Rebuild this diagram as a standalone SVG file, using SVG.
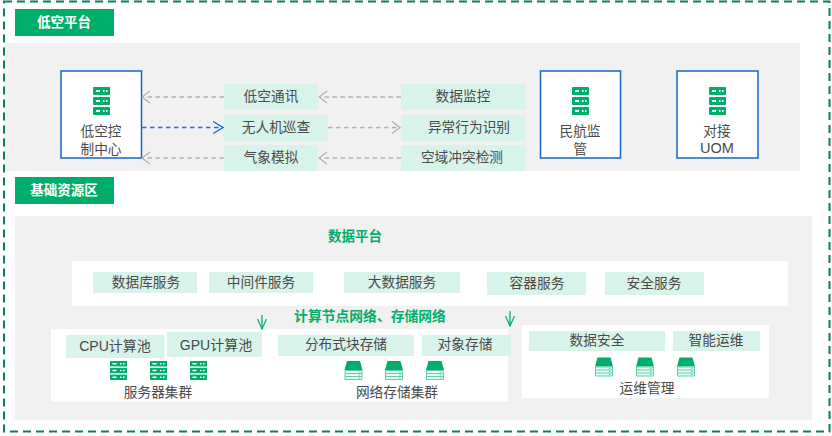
<svg xmlns="http://www.w3.org/2000/svg" width="832" height="436" viewBox="0 0 832 436">
<style>
text{font-family:"Liberation Sans","Noto Sans CJK SC",sans-serif;font-size:13.700px;fill:#4a4a4a;text-anchor:middle;dominant-baseline:central}
.t{fill:#fff;font-weight:700;font-size:13.500px}
.g{fill:#00ae6b;font-weight:700;font-size:13.500px}
.gray{fill:#f1f1f1}
.w{fill:#fff}
.b{fill:#d8f3ea}
.n{fill:#fff;stroke:#1565c8;stroke-width:1.500}
.c{fill:none;stroke-width:1.300}
.cg{stroke:#b0b0b0;stroke-dasharray:4.500 3.500}
.cb{stroke:#1a6fd0;stroke-dasharray:4.500 3.500}
</style>
<defs>
<symbol id="srv" viewBox="0 0 17 28" overflow="visible">
<rect width="17" height="8" rx="1" fill="#00ae6b"/><rect y="10" width="17" height="8" rx="1" fill="#00ae6b"/><rect y="20" width="17" height="8" rx="1" fill="#00ae6b"/>
<path d="M3 3h4v2h-4zM10 3h1.500v2h-1.500zM13 3h1.500v2h-1.500zM3 13h4v2h-4zM10 13h1.500v2h-1.500zM13 13h1.500v2h-1.500zM3 23h4v2h-4zM10 23h1.500v2h-1.500zM13 23h1.500v2h-1.500z" fill="#fff"/>
</symbol>
<symbol id="srvs" viewBox="0 0 17 19" overflow="visible">
<rect width="17" height="5.400" fill="#00ae6b"/><rect y="6.800" width="17" height="5.400" fill="#00ae6b"/><rect y="13.600" width="17" height="5.400" fill="#00ae6b"/>
<path d="M2.500 2h4v1.400h-4zM10 2h1.500v1.400h-1.500zM13 2h1.500v1.400h-1.500zM2.500 8.800h4v1.400h-4zM10 8.800h1.500v1.400h-1.500zM13 8.800h1.500v1.400h-1.500zM2.500 15.600h4v1.400h-4zM10 15.600h1.500v1.400h-1.500zM13 15.600h1.500v1.400h-1.500z" fill="#fff"/>
</symbol>
<symbol id="sto" viewBox="0 0 18 19" overflow="visible">
<path d="M2.500 0h13l2.500 9h-18z" fill="#00ae6b"/>
<path d="M.5 9.500h17v9h-17zM.5 12.500h17M.5 15.500h17M14 11h1.500M14 14h1.500M14 17h1.500" fill="#eafaf4" stroke="#5fd0a8" stroke-width="1"/>
</symbol>
<marker id="mg" viewBox="0 0 10 14" refX="9" refY="7" markerWidth="10" markerHeight="14" markerUnits="userSpaceOnUse" orient="auto-start-reverse"><path d="M1 1l8 6-8 6" fill="none" stroke="#b0b0b0" stroke-width="1.300"/></marker>
<marker id="mb" viewBox="0 0 12 14" refX="11" refY="7" markerWidth="12" markerHeight="14" markerUnits="userSpaceOnUse" orient="auto"><path d="M1 1l10 6-10 6" fill="none" stroke="#1a6fd0" stroke-width="1.300"/></marker>
<marker id="mn" viewBox="0 0 12 10" refX="11" refY="5" markerWidth="12" markerHeight="10" markerUnits="userSpaceOnUse" orient="auto"><path d="M1 .5l10 4.500-10 4.500" fill="none" stroke="#00ae6b" stroke-width="1.200"/></marker>
</defs>

<rect class="gray" x="4" y="43" width="796" height="128"/>
<rect class="gray" x="15" y="216" width="797" height="204"/>
<rect x="4" y="1.500" width="825.500" height="430" fill="none" stroke="#0a7f5a" stroke-width="2" stroke-dasharray="8 5"/>

<g id="title-low"><rect x="15" y="9" width="99" height="27" fill="#00ae6b"/><text class="t" x="64" y="22">低空平台</text></g>
<g id="title-base"><rect x="15" y="177" width="99" height="27" fill="#00ae6b"/><text class="t" x="64" y="190">基础资源区</text></g>

<g id="node-control"><rect class="n" x="61" y="71" width="80.500" height="87"/><use href="#srv" x="93" y="87" width="17" height="28"/><text x="101" y="131.300">低空控<tspan x="101" dy="17.500">制中心</tspan></text></g>
<g id="node-caac"><rect class="n" x="540.500" y="71" width="80" height="87"/><use href="#srv" x="572" y="87" width="17" height="28"/><text x="580" y="131.300">民航监<tspan x="580" dy="17.500">管</tspan></text></g>
<g id="node-uom"><rect class="n" x="677" y="71" width="81" height="87"/><use href="#srv" x="709" y="87" width="17" height="28"/><text x="717" y="131.300">对接<tspan x="717" dy="17" style="font-size:14.500px">UOM</tspan></text></g>

<g id="svc-comm"><rect class="b" x="224" y="84" width="94" height="26"/><text x="271" y="96.800">低空通讯</text></g>
<g id="svc-patrol"><rect class="b" x="224" y="115" width="104" height="26"/><text x="276" y="127.300">无人机巡查</text></g>
<g id="svc-weather"><rect class="b" x="224" y="145" width="94" height="26"/><text x="271" y="157.300">气象模拟</text></g>
<g id="svc-monitor"><rect class="b" x="401" y="84" width="125" height="26"/><text x="463" y="96.800">数据监控</text></g>
<g id="svc-abnormal"><rect class="b" x="401" y="115" width="125" height="26"/><text x="469" y="127.300">异常行为识别</text></g>
<g id="svc-conflict"><rect class="b" x="401" y="145" width="125" height="26"/><text x="462" y="157.300">空域冲突检测</text></g>

<text class="g" x="355" y="236.300">数据平台</text>
<rect class="w" x="72" y="261" width="716" height="45"/>
<g id="svc-db"><rect class="b" x="93" y="272" width="104" height="21"/><text x="146" y="282.300">数据库服务</text></g>
<g id="svc-mw"><rect class="b" x="209" y="272" width="104" height="21"/><text x="261" y="282.300">中间件服务</text></g>
<g id="svc-bd"><rect class="b" x="344" y="272" width="116" height="21"/><text x="402" y="282.300">大数据服务</text></g>
<g id="svc-ctr"><rect class="b" x="487" y="272" width="99" height="23"/><text x="537" y="283.300">容器服务</text></g>
<g id="svc-sec"><rect class="b" x="605" y="272" width="99" height="23"/><text x="654" y="283.300">安全服务</text></g>

<text class="g" x="370" y="316.300" style="font-size:13.800px">计算节点网络、存储网络</text>

<rect class="w" x="51" y="329" width="457" height="72.500"/>
<rect class="w" x="522" y="325" width="247" height="73"/>

<g id="svc-cpu"><rect class="b" x="66" y="335" width="98.500" height="23"/><text x="115" y="346.300" style="font-size:14px">CPU计算池</text></g>
<g id="svc-gpu"><rect class="b" x="167" y="332" width="95" height="25"/><text x="216" y="345.300" style="font-size:14px">GPU计算池</text></g>
<g id="svc-block"><rect class="b" x="278" y="335" width="136" height="21"/><text x="346" y="344.800">分布式块存储</text></g>
<g id="svc-obj"><rect class="b" x="422" y="335" width="89" height="21"/><text x="465" y="344.800">对象存储</text></g>
<g id="svc-ds"><rect class="b" x="529" y="331" width="136" height="20"/><text x="597" y="340.800">数据安全</text></g>
<g id="svc-ai"><rect class="b" x="673" y="331" width="87" height="20"/><text x="716" y="340.800">智能运维</text></g>

<g id="cluster-server"><use href="#srvs" x="110" y="361" width="17" height="19"/><use href="#srvs" x="150" y="361" width="17" height="19"/><use href="#srvs" x="190" y="361" width="17" height="19"/><text x="158" y="392.300">服务器集群</text></g>
<g id="cluster-storage"><use href="#sto" x="344.500" y="361" width="18" height="19"/><use href="#sto" x="385" y="361" width="18" height="19"/><use href="#sto" x="426" y="361" width="18" height="19"/><text x="397" y="392.300">网络存储集群</text></g>
<g id="cluster-ops"><use href="#sto" x="595" y="357.500" width="18" height="19"/><use href="#sto" x="636" y="357.500" width="18" height="19"/><use href="#sto" x="677" y="357.500" width="18" height="19"/><text x="647" y="388.800">运维管理</text></g>

<g id="connectors">
<path class="c cg" d="M224 97H142" marker-end="url(#mg)"/>
<path class="c cg" d="M401 97H319" marker-end="url(#mg)"/>
<path class="c cb" d="M142 127.500H223" marker-end="url(#mb)"/>
<path class="c cg" d="M328 127.500H400" marker-end="url(#mg)"/>
<path class="c cg" d="M224 158H142" marker-end="url(#mg)"/>
<path class="c cg" d="M401 158H319" marker-end="url(#mg)"/>
<path class="c" stroke="#00ae6b" d="M262 315V329" marker-end="url(#mn)"/>
<path class="c" stroke="#00ae6b" d="M510 311V326" marker-end="url(#mn)"/>
</g>
</svg>
